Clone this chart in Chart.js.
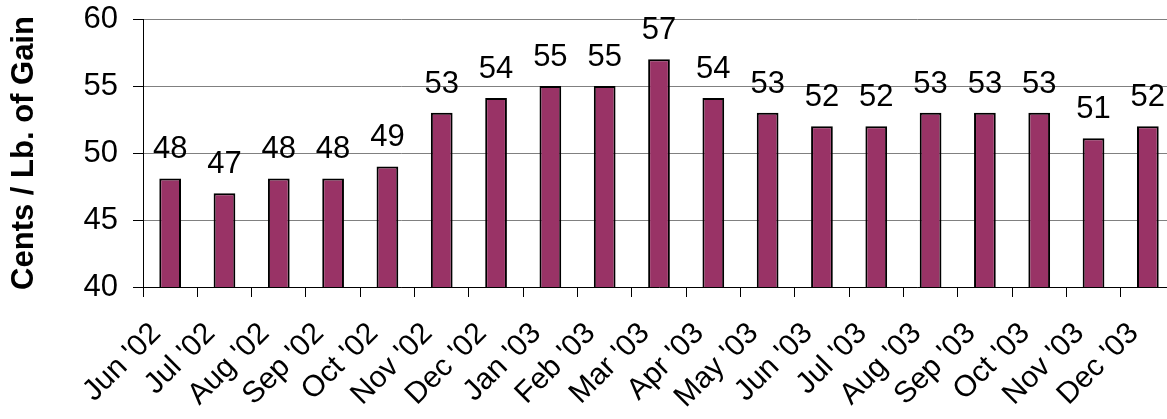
<!DOCTYPE html>
<html>
<head>
<meta charset="utf-8">
<script src="https://cdn.jsdelivr.net/npm/chart.js@4"></script>
<style>
  html, body { margin: 0; padding: 0; background: #fff; overflow: hidden; }
</style>
</head>
<body>
<canvas id="chart" width="1175" height="419"></canvas>
<script>
const months = ["Jun '02", "Jul '02", "Aug '02", "Sep '02", "Oct '02", "Nov '02", "Dec '02",
  "Jan '03", "Feb '03", "Mar '03", "Apr '03", "May '03", "Jun '03", "Jul '03",
  "Aug '03", "Sep '03", "Oct '03", "Nov '03", "Dec '03"];
const cents = [48.1, 47.0, 48.1, 48.1, 49.0, 53.0, 54.1, 55.0, 55.0, 57.0,
  54.1, 53.0, 52.0, 52.0, 53.0, 53.0, 53.0, 51.1, 52.0];
const yTicks = [40, 45, 50, 55, 60];

// value labels above each bar
const barLabels = {
  id: 'barLabels',
  afterDatasetsDraw(chart) {
    const c = chart.ctx;
    const meta = chart.getDatasetMeta(0);
    c.save();
    c.font = '31px Arial, "Liberation Sans"';
    c.fillStyle = '#000';
    c.textAlign = 'center';
    c.textBaseline = 'alphabetic';
    meta.data.forEach((bar, i) => {
      c.fillText(Math.round(cents[i]), bar.x, bar.y - 20);
    });
    c.restore();
  }
};

new Chart(document.getElementById('chart'), {
  type: 'bar',
  plugins: [barLabels],
  data: {
    labels: months,
    datasets: [{
      data: cents,
      backgroundColor: '#993366',
      borderColor: '#000',
      borderWidth: 2,
      barPercentage: 0.4,
      categoryPercentage: 1
    }]
  },
  options: {
    responsive: false,
    animation: false,
    devicePixelRatio: 1,
    layout: { padding: { top: 19, right: 0, left: 0, bottom: 0 } },
    plugins: {
      legend: { display: false },
      tooltip: { enabled: false }
    },
    scales: {
      x: {
        grid: {
          offset: true,
          drawOnChartArea: false,
          color: '#000',
          tickLength: 10
        },
        border: { color: '#000', width: 1 },
        ticks: {
          color: '#000',
          font: { family: 'Arial, "Liberation Sans"', size: 30 },
          maxRotation: 45,
          minRotation: 45,
          padding: 19,
          labelOffset: -14,
          autoSkip: false
        },
        afterFit(scale) {
          scale.height = 132;
          scale.paddingLeft = 0;
          scale.paddingRight = 0;
        }
      },
      y: {
        min: 40,
        max: 60,
        afterBuildTicks(scale) { scale.ticks = yTicks.map(v => ({ value: v })); },
        grid: {
          color: '#808080',
          tickColor: '#000',
          tickLength: 10
        },
        border: { color: '#000', width: 1 },
        ticks: {
          color: '#000',
          font: { family: 'Arial, "Liberation Sans"', size: 31 },
          padding: 15
        },
        title: {
          display: true,
          text: 'Cents / Lb. of Gain',
          color: '#000',
          font: { family: 'Arial, "Liberation Sans"', size: 31, weight: 'bold' },
          padding: { top: 6, bottom: 0 }
        },
        afterFit(scale) {
          scale.width = 143;
          scale.paddingTop = 0;
          scale.paddingBottom = 0;
        }
      }
    }
  }
});
</script>
</body>
</html>
